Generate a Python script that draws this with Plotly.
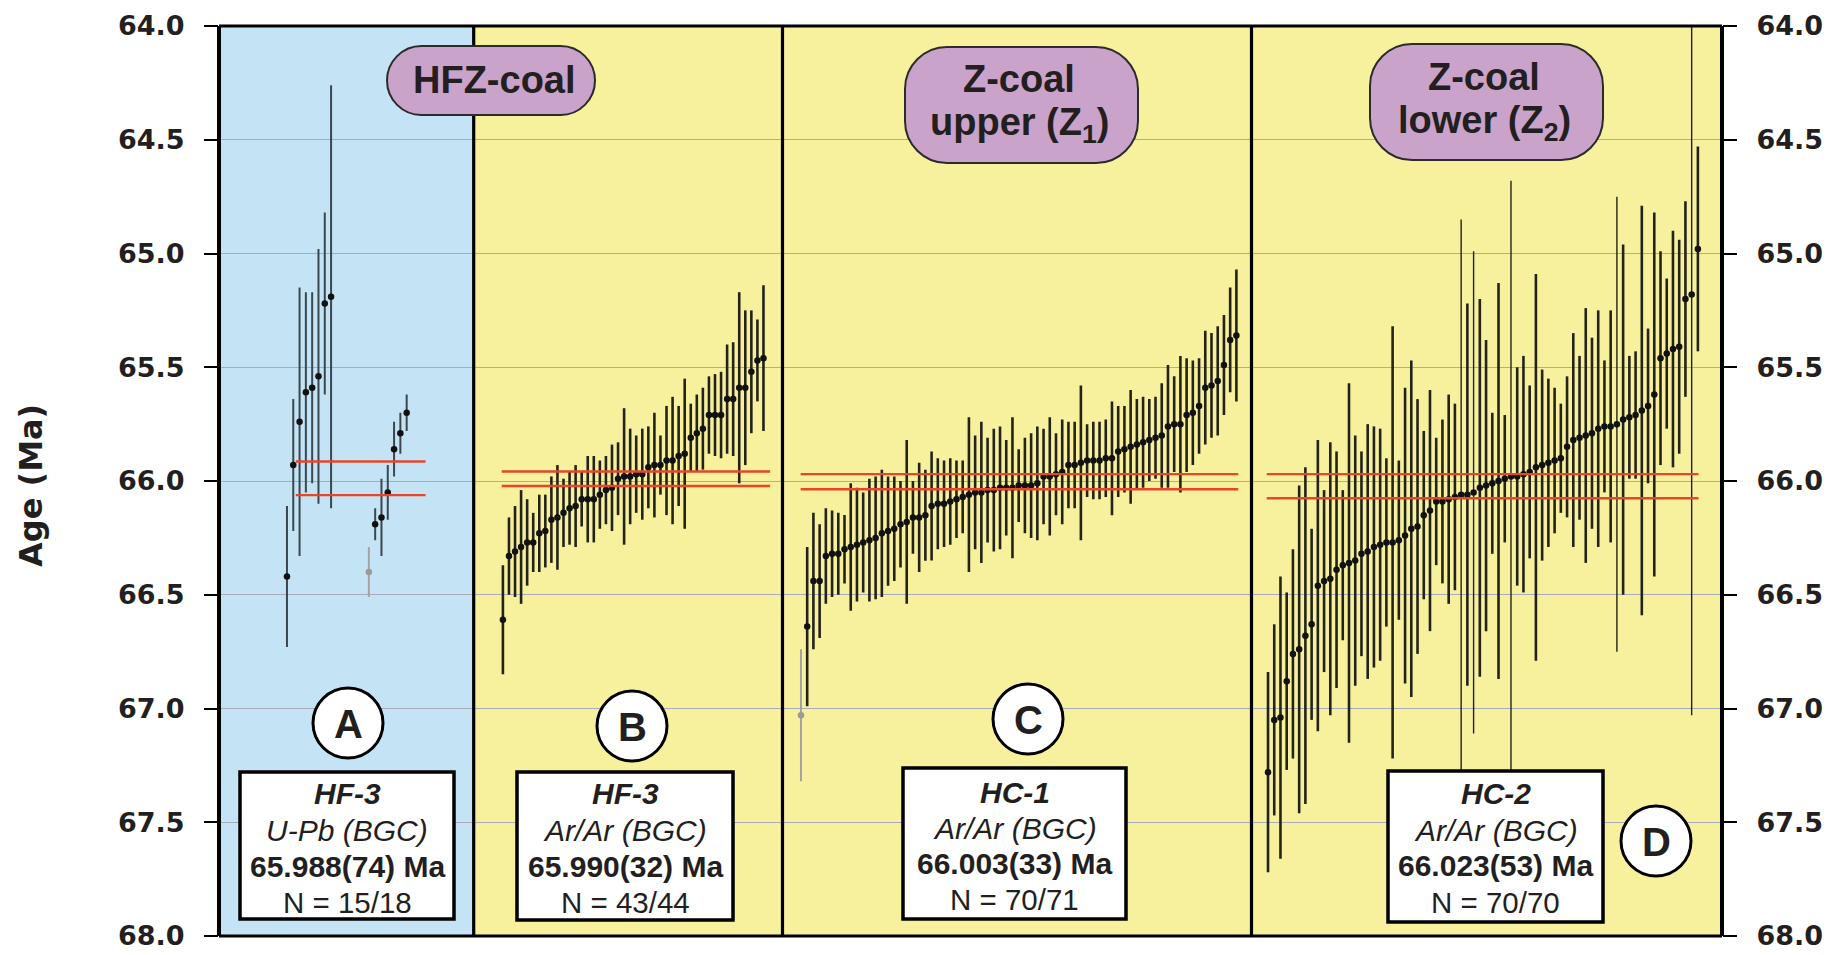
import plotly.graph_objects as go

# ---------------- data ----------------
# Panel A : HF-3 U-Pb (None = gap between the two zircon groups)
A_age = [66.42, 65.93, 65.74, 65.61, 65.59, 65.54, 65.22, 65.19,
         None, None, None, None, None,
         66.40, 66.19, 66.16, 66.05, 65.86, 65.79, 65.70]
A_err = [0.31, 0.29, 0.59, 0.44, 0.42, 0.56, 0.40, 0.93,
         None, None, None, None, None,
         0.11, 0.07, 0.17, 0.12, 0.12, 0.09, 0.08]
A_rejected = [13]

# Panel B : HF-3 Ar/Ar
B_age = [66.61, 66.33, 66.31, 66.29, 66.27, 66.27, 66.23, 66.22, 66.17, 66.16,
         66.14, 66.12, 66.11, 66.08, 66.08, 66.08, 66.06, 66.04, 66.03, 65.99,
         65.98, 65.98, 65.97, 65.97, 65.94, 65.93, 65.93, 65.91, 65.91, 65.89,
         65.88, 65.81, 65.79, 65.77, 65.71, 65.71, 65.71, 65.64, 65.64, 65.59,
         65.59, 65.52, 65.47, 65.46]
B_err = [0.24, 0.17, 0.20, 0.25, 0.19, 0.13, 0.17, 0.16, 0.19, 0.23,
         0.15, 0.16, 0.18, 0.12, 0.19, 0.19, 0.15, 0.15, 0.19, 0.16,
         0.30, 0.21, 0.17, 0.20, 0.18, 0.23, 0.13, 0.24, 0.28, 0.22,
         0.33, 0.15, 0.17, 0.18, 0.17, 0.18, 0.19, 0.24, 0.25, 0.42,
         0.34, 0.27, 0.18, 0.32]
B_rejected = []

# Panel C : HC-1 Ar/Ar
C_age = [67.03, 66.64, 66.44, 66.44, 66.33, 66.32, 66.32, 66.30, 66.29, 66.28,
         66.27, 66.26, 66.25, 66.23, 66.22, 66.21, 66.19, 66.18, 66.16, 66.16,
         66.15, 66.11, 66.10, 66.10, 66.09, 66.08, 66.07, 66.06, 66.05, 66.05,
         66.04, 66.04, 66.03, 66.03, 66.03, 66.02, 66.02, 66.02, 66.01, 65.98,
         65.98, 65.97, 65.96, 65.93, 65.93, 65.92, 65.91, 65.91, 65.91, 65.90,
         65.90, 65.87, 65.86, 65.85, 65.84, 65.83, 65.82, 65.81, 65.80, 65.76,
         65.75, 65.75, 65.71, 65.70, 65.67, 65.59, 65.58, 65.56, 65.49, 65.38,
         65.36]
C_err = [0.29, 0.35, 0.30, 0.25, 0.21, 0.19, 0.18, 0.15, 0.28, 0.25,
         0.22, 0.27, 0.27, 0.28, 0.24, 0.23, 0.19, 0.36, 0.16, 0.24,
         0.20, 0.24, 0.20, 0.19, 0.19, 0.17, 0.16, 0.34, 0.25, 0.31,
         0.23, 0.27, 0.27, 0.21, 0.31, 0.16, 0.21, 0.23, 0.25, 0.21,
         0.26, 0.18, 0.23, 0.19, 0.19, 0.34, 0.16, 0.17, 0.17, 0.17,
         0.25, 0.20, 0.19, 0.25, 0.20, 0.20, 0.18, 0.18, 0.23, 0.27,
         0.21, 0.30, 0.25, 0.23, 0.21, 0.25, 0.23, 0.24, 0.22, 0.23,
         0.29]
C_rejected = [0]

# Panel D : HC-2 Ar/Ar
D_age = [67.28, 67.05, 67.04, 66.88, 66.76, 66.74, 66.68, 66.63, 66.46, 66.44,
         66.43, 66.39, 66.37, 66.36, 66.35, 66.32, 66.31, 66.29, 66.28, 66.27,
         66.27, 66.26, 66.24, 66.21, 66.20, 66.15, 66.13, 66.09, 66.09, 66.08,
         66.07, 66.06, 66.06, 66.05, 66.03, 66.02, 66.01, 66.00, 65.99, 65.98,
         65.98, 65.97, 65.96, 65.94, 65.93, 65.92, 65.91, 65.90, 65.85, 65.82,
         65.81, 65.80, 65.79, 65.77, 65.76, 65.76, 65.75, 65.73, 65.72, 65.71,
         65.69, 65.67, 65.62, 65.46, 65.44, 65.42, 65.41, 65.20, 65.18, 64.98]
D_err = [0.44, 0.42, 0.62, 0.39, 0.46, 0.72, 0.74, 0.42, 0.64, 0.40,
         0.60, 0.52, 0.33, 0.79, 0.55, 0.45, 0.56, 0.53, 0.51, 0.37,
         0.95, 0.35, 0.65, 0.74, 0.56, 0.37, 0.53, 0.28, 0.36, 0.46,
         0.41, 1.21, 0.84, 1.06, 0.83, 0.64, 0.31, 0.87, 0.28, 1.30,
         0.48, 0.52, 0.38, 0.85, 0.42, 0.37, 0.32, 0.24, 0.31, 0.47,
         0.36, 0.56, 0.42, 0.52, 0.29, 0.51, 1.00, 0.77, 0.27, 0.28,
         0.90, 0.34, 0.80, 0.47, 0.33, 0.52, 0.47, 0.43, 1.85, 0.45]
D_rejected = []

# weighted means (Ma) and 2-sigma uncertainty
means = [65.988, 65.990, 66.003, 66.023]
uncs = [0.074, 0.032, 0.033, 0.053]
samples = ["HF-3", "HF-3", "HC-1", "HC-2"]
methods = ["U-Pb (BGC)", "Ar/Ar (BGC)", "Ar/Ar (BGC)", "Ar/Ar (BGC)"]
n_labels = ["N = 15/18", "N = 43/44", "N = 70/71", "N = 70/70"]
letters = ["A", "B", "C", "D"]
y_ticks = [64.0, 64.5, 65.0, 65.5, 66.0, 66.5, 67.0, 67.5, 68.0]

# ---------------- layout geometry (pixels) ----------------
FW, FH = 1834, 955
L, R, T, B = 219, 112, 26, 19
W, H = FW - L - R, FH - T - B


def px(x):
    return (x - L) / W


def py(y):
    return (T + H - y) / H


borders = [219, 473.7, 782.5, 1251.5, 1722]
domains = [[px(borders[i]), px(borders[i + 1])] for i in range(4)]
xranges = [[-10.79, 29.64], [-4.82, 46.14], [-2.97, 72.43], [-2.65, 72.87]]
red_span = [[1.4, 22.0], [-0.2, 44.1], [-0.05, 70.3], [-0.2, 69.1]]
bg_colors = ["#c4e4f6", "#f7f19d", "#f7f19d", "#f7f19d"]

INK = "#231f20"
BAR = "#23231a"

fig = go.Figure()

panels = [(A_age, A_err, A_rejected), (B_age, B_err, B_rejected),
          (C_age, C_err, C_rejected), (D_age, D_err, D_rejected)]

for p, (ages, errs, rej) in enumerate(panels):
    xa = "x" if p == 0 else f"x{p + 1}"
    idx = list(range(len(ages)))
    groups = {"main": [], "thin": [], "rej": []}
    for i in idx:
        if ages[i] is None:
            continue
        if i in rej:
            groups["rej"].append(i)
        elif errs[i] >= 1.0 and p == 3:
            groups["thin"].append(i)
        else:
            groups["main"].append(i)
    for g, ids in groups.items():
        if not ids:
            continue
        if g == "rej":
            mcol, ecol, th = "#9a9a9a", "#a3a3a3", 2.0
        elif g == "thin":
            mcol, ecol, th = "#111111", BAR, 1.4
        else:
            mcol = "#111111"
            ecol = "#3a474d" if p == 0 else BAR
            th = 2.0 if p == 0 else 2.6
        fig.add_trace(go.Scatter(
            x=ids, y=[ages[i] for i in ids], xaxis=xa, yaxis="y",
            mode="markers",
            marker=dict(size=6.5, color=mcol, line=dict(width=0)),
            error_y=dict(type="data", array=[errs[i] for i in ids],
                         visible=True, thickness=th, width=0, color=ecol),
            showlegend=False, hoverinfo="skip"))

# invisible trace to draw the right-hand axis
fig.add_trace(go.Scatter(x=[0], y=[66], xaxis="x4", yaxis="y2", mode="markers",
                         marker=dict(opacity=0), showlegend=False, hoverinfo="skip"))

shapes = []
for i in range(4):
    shapes.append(dict(type="rect", xref="paper", yref="paper",
                       x0=domains[i][0], x1=domains[i][1], y0=0, y1=1,
                       fillcolor=bg_colors[i], line=dict(width=0), layer="below"))
for i in range(4):
    xa = "x" if i == 0 else f"x{i + 1}"
    for v in (means[i] - uncs[i], means[i] + uncs[i]):
        shapes.append(dict(type="line", xref=xa, yref="y",
                           x0=red_span[i][0], x1=red_span[i][1], y0=v, y1=v,
                           line=dict(color="#e8452a", width=2.4), layer="above"))
for k, bx in enumerate(borders):
    wdt = 4 if k in (0, 4) else 3.2
    shapes.append(dict(type="line", xref="paper", yref="paper",
                       x0=px(bx), x1=px(bx), y0=0, y1=1,
                       line=dict(color="black", width=wdt), layer="above"))
for yy in (0, 1):
    shapes.append(dict(type="line", xref="paper", yref="paper",
                       x0=0, x1=1, y0=yy, y1=yy,
                       line=dict(color="black", width=3), layer="above"))


def rrect(x0, y0, x1, y1, r):
    k = 0.5523 * r

    def P(x, y):
        return f"{px(x):.5f},{py(y):.5f}"
    return (f"M {P(x0 + r, y0)} L {P(x1 - r, y0)} "
            f"C {P(x1 - r + k, y0)} {P(x1, y0 + r - k)} {P(x1, y0 + r)} "
            f"L {P(x1, y1 - r)} "
            f"C {P(x1, y1 - r + k)} {P(x1 - r + k, y1)} {P(x1 - r, y1)} "
            f"L {P(x0 + r, y1)} "
            f"C {P(x0 + r - k, y1)} {P(x0, y1 - r + k)} {P(x0, y1 - r)} "
            f"L {P(x0, y0 + r)} "
            f"C {P(x0, y0 + r - k)} {P(x0 + r - k, y0)} {P(x0 + r, y0)} Z")


pills = [(387, 46, 595, 115, 34.5), (905, 47, 1138, 163, 42), (1370, 44, 1603, 160, 42)]
for (x0, y0, x1, y1, r) in pills:
    shapes.append(dict(type="path", xref="paper", yref="paper", path=rrect(x0, y0, x1, y1, r),
                       fillcolor="#c9a3c9", line=dict(color="#2b2b2b", width=2), layer="above"))

circles = [(348, 723), (632, 726), (1028, 719), (1656, 841)]
for (cx, cy) in circles:
    rr = 35
    shapes.append(dict(type="circle", xref="paper", yref="paper",
                       x0=px(cx - rr), x1=px(cx + rr), y0=py(cy + rr), y1=py(cy - rr),
                       fillcolor="white", line=dict(color="black", width=3), layer="above"))

boxes = [(240, 772, 454, 919), (517, 772, 733, 920), (903, 768, 1126, 919), (1388, 771, 1603, 922)]
for (x0, y0, x1, y1) in boxes:
    shapes.append(dict(type="rect", xref="paper", yref="paper",
                       x0=px(x0), x1=px(x1), y0=py(y1), y1=py(y0),
                       fillcolor="white", line=dict(color="black", width=3.5), layer="above"))

ann = []


def text(x, y, s, size, family="Liberation Sans", angle=0):
    ann.append(dict(x=px(x), y=py(y), xref="paper", yref="paper", text=s,
                    showarrow=False, xanchor="center", yanchor="middle",
                    textangle=angle,
                    font=dict(family=family, size=size, color=INK)))


text(494, 80, "<b>HFZ-coal</b>", 38)
text(1019, 79, "<b>Z-coal</b>", 38)
text(1019, 125, "<b>upper (Z<sub>1</sub>)</b>", 38)
text(1484, 77, "<b>Z-coal</b>", 38)
text(1484, 123, "<b>lower (Z<sub>2</sub>)</b>", 38)

for (cx, cy), let in zip(circles, letters):
    text(cx, cy + 1, f"<b>{let}</b>", 40)

line_y = [[793, 830, 866, 902], [793, 830, 866, 902], [792, 828, 863, 899], [793, 830, 865, 902]]
for i, (x0, y0, x1, y1) in enumerate(boxes):
    cx = (x0 + x1) / 2
    ly = line_y[i]
    text(cx, ly[0], f"<b><i>{samples[i]}</i></b>", 30)
    text(cx, ly[1], f"<i>{methods[i]}</i>", 30)
    text(cx, ly[2], f"<b>{means[i]:.3f}({round(uncs[i] * 1000)}) Ma</b>", 30)
    text(cx, ly[3], n_labels[i], 29.5)

text(31, 486, "<b>Age (Ma)</b>", 32, family="DejaVu Sans", angle=-90)

tickfont = dict(family="DejaVu Sans", size=27, color=INK, weight="bold")
yax_common = dict(range=[68, 64], tickvals=y_ticks, ticktext=[f"{v:.1f}" for v in y_ticks],
                  ticks="outside", ticklen=14, tickwidth=2, tickcolor="black",
                  tickfont=tickfont, ticklabelstandoff=14, automargin=False,
                  zeroline=False, showline=False, fixedrange=True)

layout = dict(
    width=FW, height=FH,
    margin=dict(l=L, r=R, t=T, b=B, pad=0, autoexpand=False),
    paper_bgcolor="white", plot_bgcolor="rgba(0,0,0,0)",
    showlegend=False,
    shapes=shapes, annotations=ann,
    yaxis=dict(**yax_common, anchor="x", side="left", showgrid=True,
               gridcolor="#a9abbb", gridwidth=1.2),
    yaxis2=dict(**yax_common, anchor="x4", side="right", overlaying="y", showgrid=False),
)
for i in range(4):
    key = "xaxis" if i == 0 else f"xaxis{i + 1}"
    layout[key] = dict(domain=domains[i], range=xranges[i], anchor="y",
                       showgrid=False, zeroline=False, showticklabels=False,
                       ticks="", showline=False, fixedrange=True, automargin=False)

fig.update_layout(**layout)
fig.write_html("out.html")
